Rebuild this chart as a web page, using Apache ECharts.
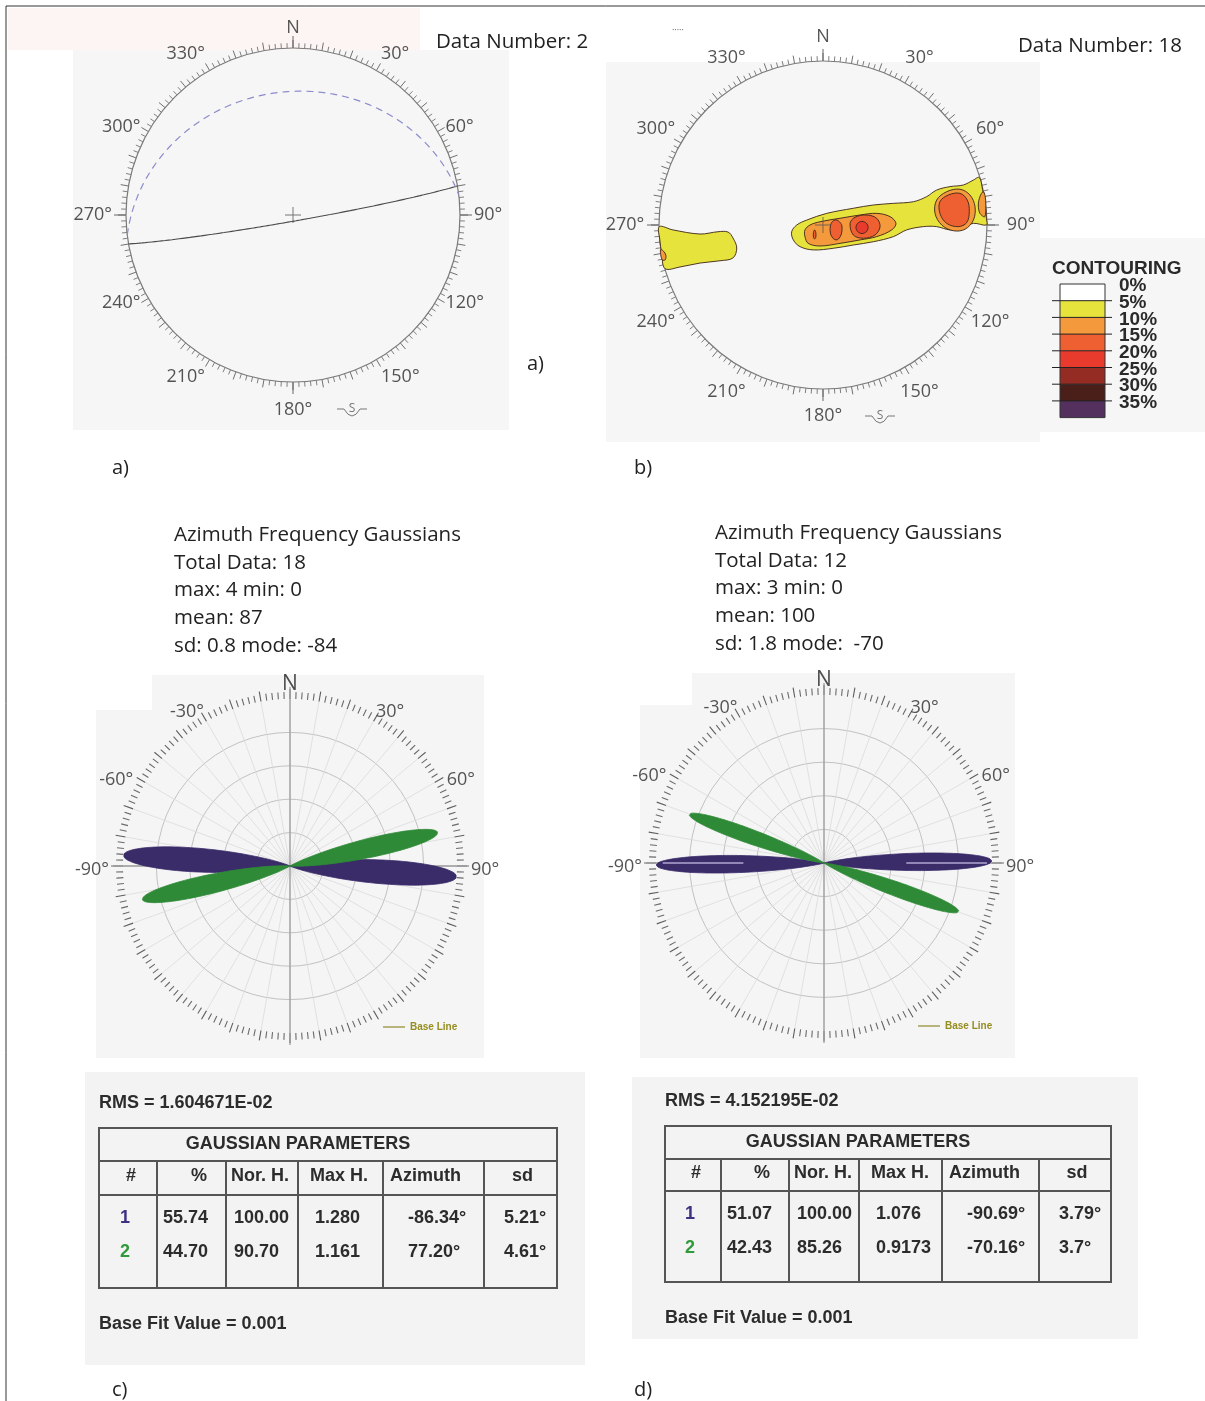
<!DOCTYPE html>
<html>
<head>
<meta charset="utf-8">
<script src="https://cdn.jsdelivr.net/npm/echarts@6/dist/echarts.min.js"></script>
<style>
  html, body { margin: 0; padding: 0; background: #ffffff; }
  #chart { width: 1205px; height: 1401px; }
</style>
</head>
<body>
<div id="chart"></div>
<script>
// ---------- (a) stereonet: planes as [dip direction, dip] ----------
const planesA = [[170, 87], [353, 27]];
const dataNumberA = 2;
const netLabelAngles = [0, 30, 60, 90, 120, 150, 180, 210, 240, 270, 300, 330];

// ---------- (b) stereonet: density contours (net units, x = east, y = north, radius 1) ----------
const dataNumberB = 18;
const contourLevels = ['0%', '5%', '10%', '15%', '20%', '25%', '30%', '35%'];
const contourColors = ['#ffffff', '#e6e33c', '#f49a3d', '#ee6032', '#e93a2e', '#942c23', '#4a1e19', '#54305e'];
const contour5 = [
  [[-0.998,-0.010],[-0.915,-0.030],[-0.750,-0.055],[-0.640,-0.041],[-0.579,-0.043],[-0.549,-0.079],[-0.526,-0.140],[-0.549,-0.201],[-0.628,-0.218],[-0.750,-0.232],[-0.872,-0.256],[-0.963,-0.266],[-0.984,-0.170],[-0.995,-0.090]],
  [[-0.191,-0.041],[-0.160,0.000],[-0.099,0.030],[0.023,0.071],[0.185,0.102],[0.307,0.122],[0.429,0.132],[0.551,0.142],[0.632,0.173],[0.693,0.213],[0.774,0.234],[0.856,0.244],[0.917,0.274],[0.953,0.290],[0.973,0.215],[0.989,0.120],[0.996,0.040],[0.997,0.000],[0.917,0.010],[0.835,-0.020],[0.774,-0.030],[0.693,-0.010],[0.612,-0.010],[0.510,-0.030],[0.429,-0.071],[0.307,-0.102],[0.185,-0.122],[0.063,-0.142],[-0.059,-0.152],[-0.140,-0.132],[-0.181,-0.091]]
];
const contour10 = [
  [[-0.990,-0.150],[-0.972,-0.160],[-0.958,-0.185],[-0.962,-0.212],[-0.978,-0.214],[-0.988,-0.190]],
  [[-0.110,-0.030],[-0.079,0.000],[-0.018,0.020],[0.104,0.041],[0.226,0.061],[0.327,0.071],[0.409,0.051],[0.445,0.010],[0.419,-0.030],[0.327,-0.071],[0.226,-0.091],[0.104,-0.112],[-0.018,-0.128],[-0.090,-0.112],[-0.110,-0.071]],
  [[0.693,0.152],[0.754,0.203],[0.835,0.218],[0.896,0.183],[0.927,0.112],[0.917,0.030],[0.866,-0.026],[0.795,-0.035],[0.724,0.000],[0.683,0.071]],
  [[0.976,0.203],[0.957,0.173],[0.947,0.122],[0.957,0.071],[0.986,0.051],[0.993,0.120],[0.988,0.180]]
];
const contour15 = [
  [[0.079,0.031],[0.100,0.020],[0.115,-0.005],[0.112,-0.055],[0.095,-0.085],[0.079,-0.091],[0.060,-0.080],[0.045,-0.050],[0.045,-0.005],[0.058,0.022]],
  [[0.165,0.010],[0.195,0.047],[0.266,0.061],[0.327,0.041],[0.348,-0.010],[0.317,-0.061],[0.246,-0.081],[0.185,-0.061]],
  [[0.713,0.142],[0.764,0.183],[0.835,0.193],[0.880,0.152],[0.892,0.081],[0.876,0.014],[0.825,-0.010],[0.754,0.010],[0.713,0.071]],
  [[-0.051,-0.030],[-0.044,-0.045],[-0.044,-0.075],[-0.051,-0.085],[-0.058,-0.075],[-0.058,-0.045]]
];
const contour20 = [
  [[0.238,0.022],[0.264,0.011],[0.275,-0.015],[0.264,-0.041],[0.238,-0.052],[0.212,-0.041],[0.201,-0.015],[0.212,0.011]]
];

// ---------- (c) Gaussian rose ----------
const roseStatsC = ['Azimuth Frequency Gaussians', 'Total Data: 18', 'max: 4 min: 0', 'mean: 87', 'sd: 0.8 mode: -84'];
const pctC = [55.74, 44.70];
const norHC = [100.00, 90.70];
const maxHC = [1.280, 1.161];
const azimuthC = [-86.34, 77.20];
const sdC = [5.21, 4.61];
const rmsC = '1.604671E-02';

// ---------- (d) Gaussian rose ----------
const roseStatsD = ['Azimuth Frequency Gaussians', 'Total Data: 12', 'max: 3 min: 0', 'mean: 100', 'sd: 1.8 mode:  -70'];
const pctD = [51.07, 42.43];
const norHD = [100.00, 85.26];
const maxHD = [1.076, 0.9173];
const azimuthD = [-90.69, -70.16];
const sdD = [3.79, 3.7];
const rmsD = '4.152195E-02';
const baseLineD = [[[48, -90], [96, -90]], [[49, 90], [97, 90]]];
const roseLabelAngles = [-90, -60, -30, 30, 60, 90];

const baseFitValue = '0.001';
const tableHeader = ['#', '%', 'Nor. H.', 'Max H.', 'Azimuth', 'sd'];
const componentColors = ['#3a2b69', '#2f8a37'];
const componentLabelColors = ['#3d3184', '#2f9a3a'];

const FONT = "'Open Sans', 'Noto Sans', sans-serif";
const TFONT = "'Liberation Sans', Arial, sans-serif";

// ---------- helpers ----------
const rad = d => d * Math.PI / 180;

// Equal-area (Schmidt) lower-hemisphere projection of a plane's great circle
function greatCircle(dipDir, dip) {
  const s = rad(dipDir - 90), dd = rad(dipDir), dp = rad(dip);
  const sv = [Math.sin(s), Math.cos(s), 0];
  const dv = [Math.cos(dp) * Math.sin(dd), Math.cos(dp) * Math.cos(dd), Math.sin(dp)];
  const pts = [];
  for (let t = 0; t <= 180; t += 1) {
    const c = Math.cos(rad(t)), si = Math.sin(rad(t));
    const v = [c * sv[0] + si * dv[0], c * sv[1] + si * dv[1], c * sv[2] + si * dv[2]];
    const plunge = Math.asin(Math.max(-1, Math.min(1, v[2])));
    const trend = Math.atan2(v[0], v[1]);
    const r = Math.SQRT2 * Math.sin((Math.PI / 2 - plunge) / 2);
    pts.push([r * Math.sin(trend), r * Math.cos(trend)]);
  }
  return pts;
}

// One lobe of a Gaussian component in polar [radius, angle]; the angular spread is drawn
// at petalSpread times the component's sd
const petalSpread = 1.3;
function lobe(mu, sd, h) {
  const s = sd * petalSpread, pts = [];
  for (let d = -4 * s; d <= 4 * s + 1e-9; d += s / 25) {
    pts.push([h * Math.exp(-0.5 * (d / s) * (d / s)), mu + d]);
  }
  return pts;
}
const wrap180 = a => (a > 180 ? a - 360 : (a < -180 ? a + 360 : a));

// Label just outside the ring; 'edge' labels grow away from the circle, 'center' labels sit centred
function ringLabel(angle, radiusValue, mode) {
  if (mode === 'center') return { value: [radiusValue, angle], label: { align: 'center', verticalAlign: 'middle' } };
  const s = Math.sin(rad(angle)), c = Math.cos(rad(angle));
  return {
    value: [radiusValue, angle],
    label: {
      align: s > 0.3 ? 'left' : (s < -0.3 ? 'right' : 'center'),
      verticalAlign: c > 0.75 ? 'bottom' : (c < -0.75 ? 'top' : 'middle')
    }
  };
}

// ---------- layout ----------
const netA = { cx: 293, cy: 215, r: 167, mode: 'edge', gap: 9, gapEW: 14, gapN: 11, gapS: 19 };
const netB = { cx: 823, cy: 225, r: 164, mode: 'center', gap: 29, gapEW: 34, gapN: 15, gapS: 18 };
const roseC = { cx: 290, cy: 866, r: 167 };
const roseD = { cx: 824, cy: 863, r: 168 };

const polar = [netA, netA, netB, netB, roseC, roseC, roseD, roseD].map((p, i) => ({
  center: [p.cx, p.cy],
  radius: (i >= 4 && i % 2 === 1) ? p.r + 12 : p.r
}));

function netAngle(pi) {
  return {
    polarIndex: pi, type: 'value', min: 0, max: 360, interval: 10, startAngle: 90, clockwise: true,
    axisLine: { show: true, lineStyle: { color: '#7a7a7a', width: 1.2 } },
    axisTick: { show: true, length: 8, lineStyle: { color: '#707070', width: 1 } },
    minorTick: { show: true, splitNumber: 5, length: 5, lineStyle: { color: '#808080', width: 1 } },
    splitLine: { show: false }, axisLabel: { show: false }
  };
}
function netCardinal(pi) {
  return {
    polarIndex: pi, type: 'value', min: 0, max: 360, interval: 90, startAngle: 90, clockwise: true,
    axisLine: { show: false }, axisLabel: { show: false }, splitLine: { show: false },
    axisTick: { show: true, length: 12, lineStyle: { color: '#666', width: 1 } }
  };
}
function roseAngle(pi) {
  return {
    polarIndex: pi, type: 'value', min: -180, max: 180, interval: 10, startAngle: 270, clockwise: true,
    axisLine: { show: false }, axisLabel: { show: false },
    axisTick: { show: true, length: 10, lineStyle: { color: '#5e5e5e', width: 1.1 } },
    minorTick: { show: true, splitNumber: 5, length: 7, lineStyle: { color: '#6a6a6a', width: 1.1 } },
    splitLine: { show: true, lineStyle: { color: '#dadada', width: 0.8 } }
  };
}
function roseCross(pi) {
  return {
    polarIndex: pi, type: 'value', min: -180, max: 180, interval: 90, startAngle: 270, clockwise: true,
    axisLine: { show: false }, axisTick: { show: false }, axisLabel: { show: false },
    splitLine: { show: true, lineStyle: { color: '#9a9a9a', width: 1.3 } }
  };
}
const hiddenRadius = pi => ({ polarIndex: pi, type: 'value', min: 0, max: 1, show: false });
const ringColor = '#c2c2c2';
const roseRadius = pi => ({
  polarIndex: pi, type: 'value', min: 0, max: 100, interval: 20,
  axisLine: { show: false }, axisTick: { show: false }, axisLabel: { show: false },
  splitLine: { show: true, lineStyle: { color: [ringColor, ringColor, ringColor, ringColor, ringColor, 'rgba(0,0,0,0)'], width: 1 } }
});

const angleAxis = [netAngle(0), netCardinal(1), netAngle(2), netCardinal(3), roseAngle(4), roseCross(5), roseAngle(6), roseCross(7)];
const radiusAxis = [hiddenRadius(0), hiddenRadius(1), hiddenRadius(2), hiddenRadius(3), roseRadius(4), hiddenRadius(5), roseRadius(6), hiddenRadius(7)];

const grid = [netA, netB].map(p => ({ left: p.cx - p.r, top: p.cy - p.r, width: 2 * p.r, height: 2 * p.r, containLabel: false }));
const xAxis = [0, 1].map(g => ({ gridIndex: g, type: 'value', min: -1, max: 1, show: false }));
const yAxis = [0, 1].map(g => ({ gridIndex: g, type: 'value', min: -1, max: 1, show: false }));

// ---------- series ----------
const series = [];
const crossSymbol = 'path://M9.4,0h1.2v20h-1.2zM0,9.4h20v1.2h-20z';
const labelStyle = size => ({ show: true, position: 'inside', fontSize: size, fontFamily: FONT, color: '#2b2b2b' });

// compass labels around the nets
[[1, netA], [3, netB]].forEach(([pi, net]) => series.push({
  type: 'scatter', coordinateSystem: 'polar', polarIndex: pi, silent: true, z: 10, clip: false,
  symbolSize: 1, itemStyle: { color: 'rgba(0,0,0,0)' },
  data: netLabelAngles.map(a => {
    const gap = a === 0 ? net.gapN : (a === 180 ? net.gapS : (a % 180 === 90 ? net.gapEW : net.gap));
    return ringLabel(a, 1 + gap / net.r, a % 180 === 0 ? 'edge' : net.mode);
  }),
  label: Object.assign(labelStyle(18), { formatter: p => p.value[1] === 0 ? 'N' : p.value[1] + '°' })
}));
// rose labels
[[4, roseC], [6, roseD]].forEach(([pi, rose]) => {
  series.push({
    type: 'scatter', coordinateSystem: 'polar', polarIndex: pi, silent: true, z: 10, clip: false,
    symbolSize: 1, itemStyle: { color: 'rgba(0,0,0,0)' },
    data: roseLabelAngles.map(a => ringLabel(a, 100 * (1 + (Math.abs(a) === 30 ? 5 : 14) / rose.r), 'edge')),
    label: Object.assign(labelStyle(18), { offset: [0, 4], formatter: p => p.value[1] + '°' })
  });
  series.push({
    type: 'scatter', coordinateSystem: 'polar', polarIndex: pi, silent: true, z: 10, clip: false,
    symbolSize: 1, itemStyle: { color: 'rgba(0,0,0,0)' },
    data: [[109, 0]],
    label: Object.assign(labelStyle(21), { color: '#222', formatter: 'N' })
  });
});

planesA.forEach((pl, i) => {
  series.push({
    type: 'line', xAxisIndex: 0, yAxisIndex: 0, data: greatCircle(pl[0], pl[1]),
    showSymbol: false, symbol: 'none', silent: true, clip: false, z: 4,
    lineStyle: i === 0 ? { color: '#4a4a4a', width: 1.1 } : { color: '#8a8ccc', width: 1.2, type: [7, 5] }
  });
});
[0, 1].forEach(g => series.push({
  type: 'scatter', xAxisIndex: g, yAxisIndex: g, data: [[0, 0]], symbol: crossSymbol,
  symbolSize: 16, itemStyle: { color: '#555' }, silent: true, z: 6
}));

const contourSets = [contour5, contour10, contour15, contour20];
const contourItems = [];
contourSets.forEach((set, li) => set.forEach((poly, pi) => contourItems.push([0, 0, li, pi])));
series.push({
  type: 'custom', coordinateSystem: 'cartesian2d', xAxisIndex: 1, yAxisIndex: 1, silent: true, z: 3,
  data: contourItems,
  renderItem: (params, api) => {
    const li = api.value(2), pi = api.value(3);
    const poly = contourSets[li][pi];
    return {
      type: 'polygon',
      shape: { points: poly.map(p => api.coord(p)), smooth: 0.35 },
      style: { fill: contourColors[li + 1], stroke: '#3b2418', lineWidth: 0.9 }
    };
  }
});

function addRose(polarIndex, az, sd, norH) {
  az.forEach((mu, k) => {
    [mu, wrap180(mu + 180)].forEach(m => {
      series.push({
        type: 'line', coordinateSystem: 'polar', polarIndex: polarIndex, data: lobe(m, sd[k], norH[k]),
        showSymbol: false, symbol: 'none', silent: true, clip: false, z: 5 + k,
        lineStyle: { color: componentColors[k], width: 0.8 },
        areaStyle: { color: componentColors[k], opacity: 1 }
      });
    });
  });
}
addRose(4, azimuthC, sdC, norHC);
addRose(6, azimuthD, sdD, norHD);
baseLineD.forEach(seg => series.push({
  type: 'line', coordinateSystem: 'polar', polarIndex: 6, data: seg, showSymbol: false, symbol: 'none',
  silent: true, clip: false, z: 8, lineStyle: { color: 'rgba(196,188,228,0.85)', width: 1.3 }
}));
series.push({
  name: 'Base Line', type: 'line', coordinateSystem: 'polar', polarIndex: 4, data: [],
  color: '#8d8a2c', showSymbol: false, lineStyle: { color: '#8d8a2c', width: 1 }
});

// ---------- static drawing: panels, titles, tables, contour key ----------
const els = [];
const rect = (x, y, w, h, fill, z) => els.push({ type: 'rect', z: z === undefined ? -10 : z, silent: true, shape: { x, y, width: w, height: h }, style: { fill } });
const line = (x1, y1, x2, y2, stroke, w, z) => els.push({ type: 'line', z: z || 40, silent: true, shape: { x1, y1, x2, y2 }, style: { stroke, lineWidth: w } });
const txt = (x, y, text, size, o) => els.push({
  type: 'text', x, y, z: 50, silent: true,
  style: Object.assign({
    text, fontSize: size, fontFamily: FONT, fill: '#222',
    align: 'left', verticalAlign: 'middle', textAlign: 'left', textVerticalAlign: 'middle'
  }, o || {})
});
const center = { align: 'center', textAlign: 'center' };
const right = { align: 'right', textAlign: 'right' };

// panel backgrounds
rect(8, 8, 412, 42, '#fcf5f4');
rect(73, 50, 436, 380, '#f6f6f6');
rect(606, 62, 434, 380, '#f6f6f6');
rect(1040, 238, 165, 194, '#f6f6f6');
rect(96, 710, 388, 348, '#f5f5f5');
rect(152, 675, 332, 35, '#f5f5f5');
rect(640, 705, 375, 353, '#f5f5f5');
rect(692, 673, 323, 32, '#f5f5f5');
rect(85, 1072, 500, 293, '#f3f3f3');
rect(632, 1077, 506, 262, '#f3f3f3');

// figure frame
line(6, 6, 1205, 6, '#333', 1, 60);
line(6, 6, 6, 1401, '#333', 1, 60);

// stereonet captions
txt(436, 42, 'Data Number: ' + dataNumberA, 20.5);
txt(1018, 46, 'Data Number: ' + dataNumberB, 20.5);
txt(672, 30, '·····', 9, { fill: '#555' });
txt(527, 364, 'a)', 20);
txt(112, 468, 'a)', 20);
txt(634, 468, 'b)', 20);
txt(112, 1390, 'c)', 20);
txt(634, 1390, 'd)', 20);

// south marker next to 180°
[[352, 410], [880, 417]].forEach(([x, y]) => {
  line(x - 15, y - 1, x - 8, y - 1, '#777', 1, 50);
  line(x + 8, y - 1, x + 15, y - 1, '#777', 1, 50);
  els.push({ type: 'bezierCurve', z: 50, silent: true, shape: { x1: x - 8, y1: y - 1, x2: x + 8, y2: y - 1, cpx1: x, cpy1: y + 13 }, style: { fill: 'none', stroke: '#777', lineWidth: 1 } });
  txt(x, y - 1, 'S', 12, Object.assign({ fill: '#777' }, center));
});

// contour key
txt(1052, 269, 'CONTOURING', 19, { fontFamily: TFONT, fontWeight: 'bold', fill: '#2a2a2a' });
const keyTop = 284, keyStep = 16.7;
contourColors.forEach((c, i) => rect(1060, keyTop + i * keyStep, 45, keyStep, c, 20));
els.push({ type: 'rect', z: 21, silent: true, shape: { x: 1060, y: keyTop, width: 45, height: keyStep * contourColors.length }, style: { fill: 'none', stroke: '#333', lineWidth: 1 } });
contourLevels.forEach((lab, i) => {
  if (i > 0) line(1052, keyTop + i * keyStep, 1112, keyTop + i * keyStep, '#222', 1, 22);
  txt(1119, keyTop + i * keyStep + 2, lab, 19, { fontFamily: TFONT, fontWeight: 'bold', fill: '#2a2a2a' });
});

// rose statistics
roseStatsC.forEach((s, i) => txt(174, 535 + i * 27.7, s, 20.5));
roseStatsD.forEach((s, i) => txt(715, 533 + i * 27.7, s, 20.5));

// Gaussian parameter tables
function buildTable(cols, top, titleB, headB, bottom, rms, pct, norH, maxH, az, sd) {
  const L = cols[0], R = cols[cols.length - 1];
  const tf = { fontFamily: TFONT, fontWeight: 'bold', fill: '#2c2c2c' };
  const T = (x, y, s, o) => txt(x, y, s, 18, Object.assign({}, tf, o || {}));
  txt(L, top - 25, 'RMS = ' + rms, 18, tf);
  els.push({ type: 'rect', z: 40, silent: true, shape: { x: L, y: top, width: R - L, height: bottom - top }, style: { fill: 'none', stroke: '#555', lineWidth: 2 } });
  line(L, titleB, R, titleB, '#555', 2);
  line(L, headB, R, headB, '#555', 2);
  for (let i = 1; i < cols.length - 1; i++) line(cols[i], titleB, cols[i], bottom, '#555', 2);
  T((L + R) / 2 - 30, (top + titleB) / 2, 'GAUSSIAN PARAMETERS', center);
  const hy = (titleB + headB) / 2 - 2;
  const c0 = (cols[0] + cols[1]) / 2;
  T(c0 + 3, hy, tableHeader[0], center);
  T(cols[2] - 19, hy, tableHeader[1], right);
  T(cols[2] + 5, hy, tableHeader[2]);
  T(cols[3] + 12, hy, tableHeader[3]);
  T(cols[4] + 7, hy, tableHeader[4]);
  T((cols[5] + cols[6]) / 2 + 2, hy, tableHeader[5], center);
  pct.forEach((p, k) => {
    const y = headB + 23 + k * 34.5;
    T(c0 - 3, y, String(k + 1), Object.assign({ fill: componentLabelColors[k] }, center));
    T(cols[1] + 6, y, p.toFixed(2));
    T(cols[2] + 8, y, norH[k].toFixed(2));
    T(cols[3] + 17, y, maxH[k].toPrecision(4));
    T(cols[4] + 25, y, az[k].toFixed(2) + '°');
    T(cols[5] + 20, y, String(sd[k]) + '°');
  });
  txt(L, bottom + 36, 'Base Fit Value = ' + baseFitValue, 18, tf);
}
buildTable([99, 157, 226, 298, 383, 484, 557], 1128, 1161, 1195, 1288, rmsC, pctC, norHC, maxHC, azimuthC, sdC);
buildTable([665, 721, 789, 859, 942, 1039, 1111], 1126, 1159, 1191, 1282, rmsD, pctD, norHD, maxHD, azimuthD, sdD);

const legendText = { color: '#958d1f', fontSize: 10, fontWeight: 'bold', fontFamily: TFONT };
const legend = [
  { data: [{ name: 'Base Line', icon: 'rect' }], left: 383, top: 1022, itemWidth: 22, itemHeight: 1.2, itemGap: 2, padding: 0, selectedMode: false, textStyle: legendText },
  { data: [{ name: 'Base Line', icon: 'rect' }], left: 918, top: 1021, itemWidth: 22, itemHeight: 1.2, itemGap: 2, padding: 0, selectedMode: false, textStyle: legendText }
];

const chart = echarts.init(document.getElementById('chart'), null, { renderer: 'canvas', width: 1205, height: 1401 });
chart.setOption({
  backgroundColor: '#ffffff',
  animation: false,
  textStyle: { fontFamily: FONT },
  polar, angleAxis, radiusAxis, grid, xAxis, yAxis, legend, series,
  graphic: { elements: els }
});
</script>
</body>
</html>
